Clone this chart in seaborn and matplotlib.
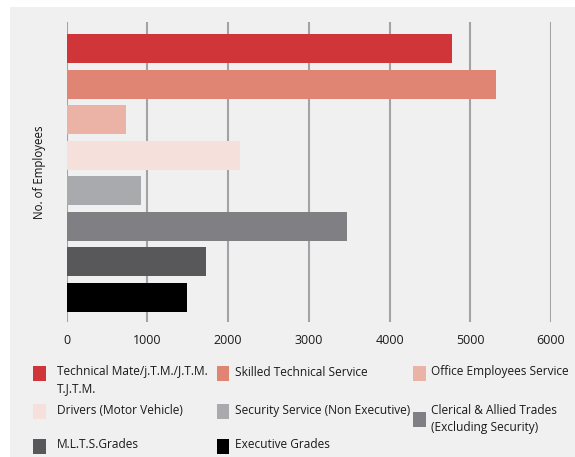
import matplotlib.pyplot as plt
import matplotlib.patches as mpatches
import seaborn as sns
import pandas as pd

# data
categories = ['Technical Mate/j.T.M./J.T.M.\nT.J.T.M.',
              'Skilled Technical Service',
              'Office Employees Service',
              'Drivers (Motor Vehicle)',
              'Security Service (Non Executive)',
              'Clerical & Allied Trades\n(Excluding Security)',
              'M.L.T.S.Grades',
              'Executive Grades']
employees = [4775, 5320, 735, 2145, 925, 3470, 1730, 1490]
colors = ['#d0353a', '#e08573', '#eab3a5', '#f5e0db',
          '#a9aaad', '#808084', '#58585a', '#000000']
x_ticks = [0, 1000, 2000, 3000, 4000, 5000, 6000]

df = pd.DataFrame({'cat': categories, 'n': employees})

sns.set_style('white')
plt.rcParams['font.family'] = ['Open Sans', 'DejaVu Sans']

W, H = 575, 457
fig = plt.figure(figsize=(W / 100, H / 100), dpi=100)
fig.patch.set_facecolor('white')
# grey panel behind everything
fig.patches.append(mpatches.Rectangle((10 / W, 0), 1, 1 - 7 / H, transform=fig.transFigure,
                                      facecolor='#f0f0f0', edgecolor='none', zorder=-5))

ax = fig.add_axes([66.7 / W, 1 - 322 / H, (551 - 66.7) / W, 300 / H])
ax.set_facecolor('none')

sns.barplot(data=df, x='n', y='cat', hue='cat', palette=colors, legend=False,
            orient='h', width=0.815, saturation=1, linewidth=0, ax=ax, zorder=3)

ax.set_xlim(0, 6000)
ax.set_ylim(7.69, -0.745)
ax.set_xticks(x_ticks)
ax.set_xticklabels([str(t) for t in x_ticks], fontsize=9, color='#1a1a1a')
ax.set_yticks([])
ax.tick_params(axis='x', length=0, pad=8.5)
ax.xaxis.grid(True, color='#a3a3a5', linewidth=1.5, zorder=0)
ax.set_axisbelow(True)
for s in ax.spines.values():
    s.set_visible(False)
ax.set_xlabel('')
ax.set_ylabel('No. of Employees', fontsize=8.3, color='#111111', labelpad=15)

# legend, three columns, filled row by row
col_marker_x = [33, 216.5, 413]
col_text_x = [57, 235, 431]
row_y = [373, 411.5, 446]
for i, (lab, c) in enumerate(zip(categories, colors)):
    col, row = i % 3, i // 3
    y = row_y[row]
    my = y
    if i == 5:
        my = y + 8
    fig.patches.append(mpatches.Rectangle((col_marker_x[col] / W, 1 - (my + 7.5) / H),
                                          12.5 / W, 15 / H, transform=fig.transFigure,
                                          facecolor=c, edgecolor='none'))
    fig.text(col_text_x[col] / W, 1 - (y - 7.5) / H, lab, fontsize=8.6, color='#1a1a1a',
             ha='left', va='top', linespacing=1.35)

fig.savefig('out.png', dpi=100, facecolor=fig.get_facecolor())
